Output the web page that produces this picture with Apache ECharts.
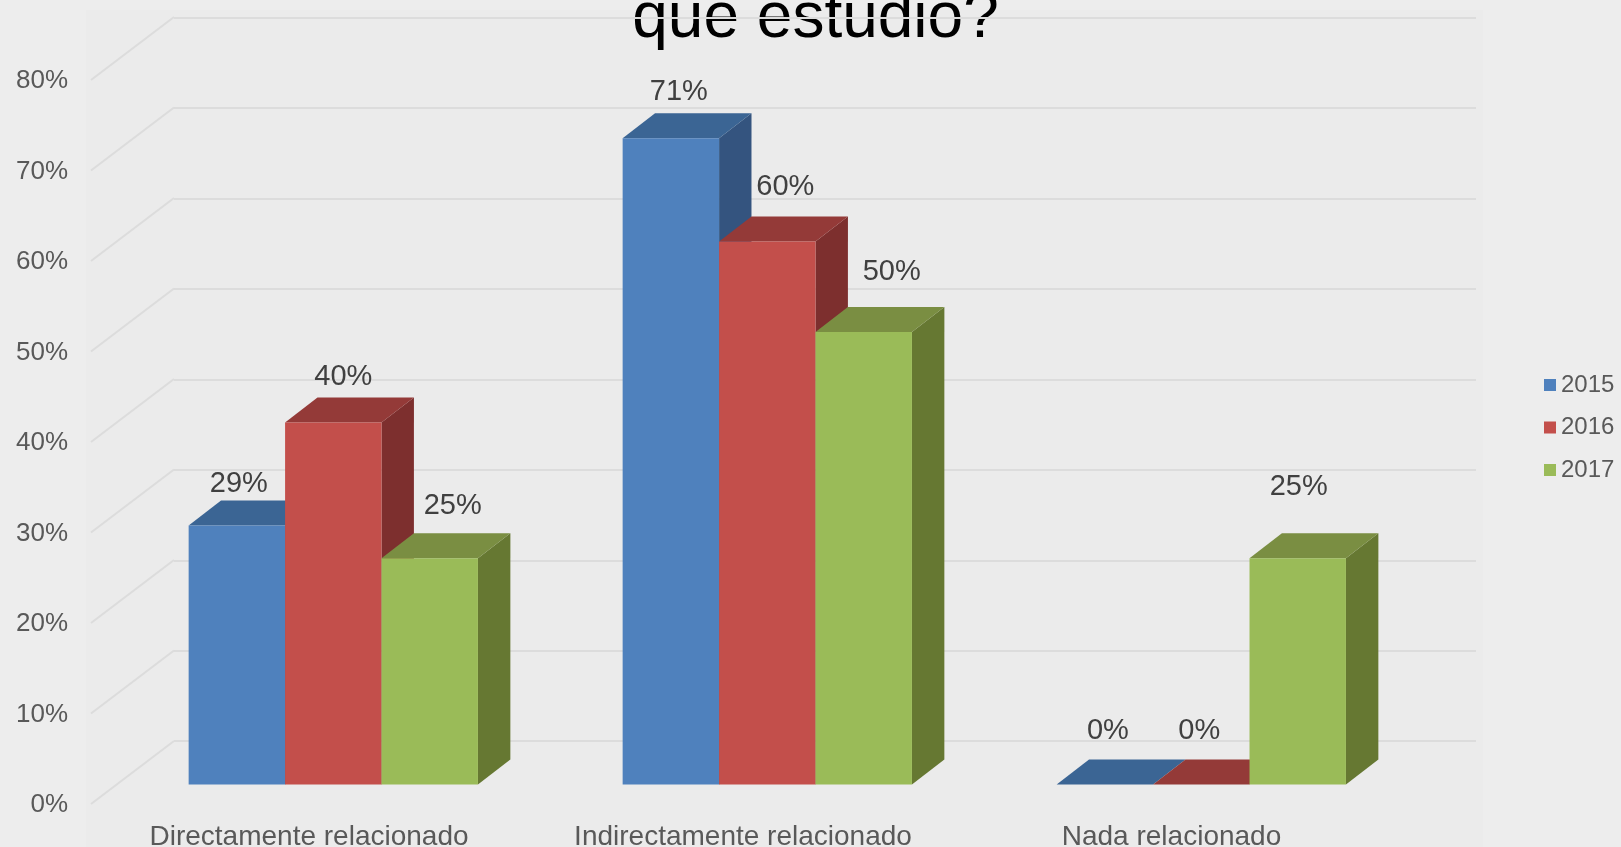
<!DOCTYPE html>
<html>
<head>
<meta charset="utf-8">
<style>
  html, body { margin: 0; padding: 0; background: #ededed; }
  #chart { width: 1621px; height: 847px; }
</style>
<script src="https://cdn.jsdelivr.net/npm/echarts@6/dist/echarts.min.js"></script>
</head>
<body>
<div id="chart"></div>
<script>
var categories = ['Directamente relacionado', 'Indirectamente relacionado', 'Nada relacionado'];
var years = ['2015', '2016', '2017'];
var values2015 = [28.6, 71.4, 0];
var values2016 = [40, 60, 0];
var values2017 = [25, 50, 25];
var yTicks = [0, 10, 20, 30, 40, 50, 60, 70, 80];

// label nudges from the top front edge of each bar, placed by hand in the original
var labelDx = [[2, 8, 3], [10, 18, -2], [23, 28, 1]];
var labelDy = [[42, 46, 53], [45, 54, 53], [52, 60, 71]];

var frontColors = ['#4f81bd', '#c34f4b', '#9abb58'];
var topColors = ['#3b6594', '#943a38', '#7a8e42'];
var sideColors = ['#34547f', '#7d2f2e', '#667832'];

var font = 'Liberation Sans, Arial, sans-serif';

// fake 3d: grid 0 is the back wall, grid 1 the front edge of the floor
var wallDx = 83, wallDy = -63;
var barPlaneDx = 25.3, barPlaneDy = -19.6;
var barDepthDx = 32.4, barDepthDy = -25;
var barShare = 0.2222;

function poly(points, color) {
  return { type: 'polygon', shape: { points: points }, style: { fill: color } };
}

function barSeries(name, index, values) {
  return {
    name: name,
    type: 'custom',
    xAxisIndex: 1,
    yAxisIndex: 1,
    z: 3,
    itemStyle: { color: frontColors[index] },
    data: values.map(function (v, i) { return [i, v]; }),
    renderItem: function (params, api) {
      var cat = api.value(0);
      var val = api.value(1);
      var w = api.size([1, 0])[0] * barShare;
      var top = api.coord([cat, val]);
      var base = api.coord([cat, 0]);
      var x0 = top[0] + barPlaneDx + (index - 1.5) * w;
      var x1 = x0 + w;
      var yt = top[1] + barPlaneDy;
      var yb = base[1] + barPlaneDy;
      var dx = barDepthDx, dy = barDepthDy;
      return {
        type: 'group',
        children: [
          poly([[x1, yt], [x1 + dx, yt + dy], [x1 + dx, yb + dy], [x1, yb]], sideColors[index]),
          poly([[x0, yt], [x0 + dx, yt + dy], [x1 + dx, yt + dy], [x1, yt]], topColors[index]),
          poly([[x0, yt], [x1, yt], [x1, yb], [x0, yb]], frontColors[index]),
          {
            type: 'text',
            z2: 10,
            style: {
              x: (x0 + x1) / 2 + labelDx[index][cat],
              y: yt - labelDy[index][cat],
              text: Math.round(val) + '%',
              fill: '#404040',
              font: '29px ' + font,
              align: 'center',
              verticalAlign: 'middle'
            }
          }
        ]
      };
    }
  };
}

var chart = echarts.init(document.getElementById('chart'));
chart.setOption({
  backgroundColor: '#ededed',
  animation: false,
  title: {
    text: 'que estudió?',
    left: 810.5,
    top: -18,
    textAlign: 'center',
    z: -1,
    textStyle: { color: '#000', fontFamily: font, fontSize: 64, fontWeight: 'normal' }
  },
  graphic: [{
    type: 'rect',
    z: -2,
    shape: { x: 86, y: 10, width: 1397, height: 837 },
    style: { fill: '#ebebeb' }
  }],
  legend: {
    data: years,
    orient: 'vertical',
    left: 1539,
    top: 368,
    itemWidth: 12,
    itemHeight: 12,
    itemGap: 18.5,
    icon: 'rect',
    textStyle: { color: '#595959', fontFamily: font, fontSize: 24 }
  },
  grid: [
    { left: 174, top: 17.6, width: 1302, height: 723.6, outerBoundsMode: 'none' },
    { left: 91, top: 80, width: 1302, height: 724, outerBoundsMode: 'none' }
  ],
  xAxis: [
    { type: 'category', gridIndex: 0, data: categories, show: false },
    {
      type: 'category',
      gridIndex: 1,
      data: categories,
      axisLine: { show: false },
      axisTick: { show: false },
      axisLabel: {
        interval: 0,
        margin: 19,
        formatter: function (v, i) { return (i === 2 ? '{c|' : '{a|') + v + '}'; },
        rich: {
          a: { color: '#595959', fontFamily: font, fontSize: 28, padding: [0, 0, 0, 2] },
          c: { color: '#595959', fontFamily: font, fontSize: 28, padding: [0, 9, 0, 0] }
        }
      }
    }
  ],
  yAxis: [
    {
      type: 'value',
      gridIndex: 0,
      min: 0,
      max: 80,
      interval: 10,
      axisLine: { show: false },
      axisTick: { show: false },
      axisLabel: { show: false },
      splitLine: { lineStyle: { color: '#dcdcdc', width: 2 } }
    },
    {
      type: 'value',
      gridIndex: 1,
      min: 0,
      max: 80,
      interval: 10,
      axisLine: { show: false },
      axisTick: { show: false },
      splitLine: { show: false },
      axisLabel: {
        margin: 23,
        formatter: '{v|{value}%}',
        rich: { v: { color: '#595959', fontFamily: font, fontSize: 26, padding: [2, 0, 0, 0] } }
      }
    }
  ],
  series: [
    {
      type: 'custom',
      name: 'wall',
      xAxisIndex: 1,
      yAxisIndex: 1,
      z: 1,
      silent: true,
      data: yTicks.map(function (t) { return [0, t]; }),
      renderItem: function (params, api) {
        var x = params.coordSys.x;
        var y = api.coord([0, api.value(1)])[1];
        return {
          type: 'line',
          shape: { x1: x, y1: y, x2: x + wallDx, y2: y + wallDy },
          style: { stroke: '#dcdcdc', lineWidth: 2 }
        };
      }
    },
    barSeries(years[0], 0, values2015),
    barSeries(years[1], 1, values2016),
    barSeries(years[2], 2, values2017)
  ]
});
</script>
</body>
</html>
